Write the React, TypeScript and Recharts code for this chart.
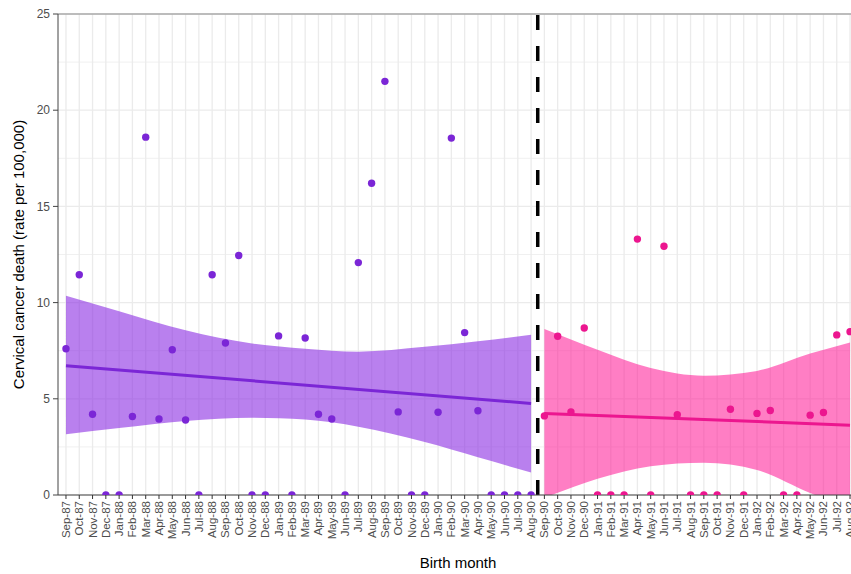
import React from "react";
import {
  ComposedChart,
  Area,
  Line,
  Scatter,
  XAxis,
  YAxis,
  CartesianGrid,
  ReferenceLine,
} from "recharts";

// birth months, Sep-87 .. Aug-92
const months = [
  "Sep-87", "Oct-87", "Nov-87", "Dec-87", "Jan-88", "Feb-88", "Mar-88", "Apr-88",
  "May-88", "Jun-88", "Jul-88", "Aug-88", "Sep-88", "Oct-88", "Nov-88", "Dec-88",
  "Jan-89", "Feb-89", "Mar-89", "Apr-89", "May-89", "Jun-89", "Jul-89", "Aug-89",
  "Sep-89", "Oct-89", "Nov-89", "Dec-89", "Jan-90", "Feb-90", "Mar-90", "Apr-90",
  "May-90", "Jun-90", "Jul-90", "Aug-90", "Sep-90", "Oct-90", "Nov-90", "Dec-90",
  "Jan-91", "Feb-91", "Mar-91", "Apr-91", "May-91", "Jun-91", "Jul-91", "Aug-91",
  "Sep-91", "Oct-91", "Nov-91", "Dec-91", "Jan-92", "Feb-92", "Mar-92", "Apr-92",
  "May-92", "Jun-92", "Jul-92", "Aug-92",
];

// death rate per 100,000, before the cut (Sep-87 .. Aug-90)
const beforeRate = [
  7.6, 11.45, 4.2, 0, 0, 4.08, 18.6, 3.95, 7.55, 3.9, 0, 11.45,
  7.9, 12.45, 0, 0, 8.27, 0, 8.16, 4.2, 3.95, 0, 12.08, 16.2,
  21.5, 4.32, 0, 0, 4.3, 18.55, 8.44, 4.38, 0, 0, 0, 0,
];

// after the cut (Sep-90 .. Aug-92)
const afterRate = [
  4.11, 8.25, 4.32, 8.68, 0, 0, 0, 13.3, 0, 12.93, 4.17, 0,
  0, 0, 4.46, 0, 4.24, 4.39, 0, 0, 4.15, 4.29, 8.32, 8.49,
];

// fitted trend, value at first and last month of each period
const beforeFit = [6.72, 4.76];
const afterFit = [4.24, 3.63];

// confidence band read at a few months
const beforeBandAt = [0, 4, 9, 14, 18, 22, 27, 31, 35];
const beforeLow = [3.16, 3.48, 3.85, 4.02, 3.92, 3.55, 2.75, 1.96, 1.17];
const beforeHigh = [10.36, 9.55, 8.56, 7.87, 7.6, 7.45, 7.7, 7.99, 8.33];

const afterBandAt = [36, 40, 44, 48, 52, 56, 59];
const afterLow = [-0.15, 0.85, 1.5, 1.68, 1.3, 0.1, -0.67];
const afterHigh = [8.63, 7.55, 6.6, 6.2, 6.45, 7.35, 7.93];

const cut = beforeRate.length;

const rows: any[] = months.map((m, i) => ({ i, month: m }));
beforeBandAt.forEach((idx, k) => (rows[idx].beforeBand = [beforeLow[k], beforeHigh[k]]));
afterBandAt.forEach((idx, k) => (rows[idx].afterBand = [afterLow[k], afterHigh[k]]));
rows[0].beforeFit = beforeFit[0];
rows[cut - 1].beforeFit = beforeFit[1];
rows[cut].afterFit = afterFit[0];
rows[months.length - 1].afterFit = afterFit[1];

const beforePts = beforeRate.map((v, k) => ({ i: k, v }));
const afterPts = afterRate.map((v, k) => ({ i: cut + k, v }));

const PURPLE = "#7b26d6";
const PINK = "#ec168f";
const FONT = "'Liberation Sans', Arial, sans-serif";

const XTick = ({ x, y, payload }: any) => (
  <text
    x={x}
    y={y}
    transform={`rotate(-90 ${x} ${y})`}
    textAnchor="end"
    dy="0.35em"
    fontSize={11.5}
    fill="#4d4d4d"
    fontFamily={FONT}
  >
    {months[payload.value]}
  </text>
);

const XTitle = ({ viewBox }: any) => (
  <text
    x={viewBox.x + viewBox.width / 2}
    y={viewBox.y + viewBox.height - 6}
    textAnchor="middle"
    fontSize={15}
    fill="#000"
    fontFamily={FONT}
  >
    Birth month
  </text>
);

const YTitle = ({ viewBox }: any) => {
  const cy = viewBox.y + viewBox.height / 2;
  return (
    <text
      x={24}
      y={cy}
      transform={`rotate(-90 24 ${cy})`}
      textAnchor="middle"
      fontSize={15}
      fill="#000"
      fontFamily={FONT}
    >
      Cervical cancer death (rate per 100,000)
    </text>
  );
};

const dot = (color: string) => (p: any) => (
  <circle cx={p.cx} cy={p.cy} r={3.7} fill={color} />
);

export default function App() {
  return (
    <div
      style={{
        position: "fixed",
        left: 0,
        top: 0,
        width: 851,
        height: 574,
        overflow: "hidden",
        background: "#fff",
      }}
    >
      <ComposedChart
        width={860}
        height={574}
        data={rows}
        margin={{ top: 14, right: 2, bottom: 0, left: 0 }}
      >
        <CartesianGrid
          stroke="#ececec"
          strokeWidth={0.8}
          vertical={false}
          horizontalValues={[2.5, 7.5, 12.5, 17.5, 22.5]}
        />
        <CartesianGrid
          stroke="#ebebeb"
          strokeWidth={1.3}
          horizontalValues={[0, 5, 10, 15, 20, 25]}
          verticalValues={months.map((_, i) => i)}
        />
        <XAxis
          dataKey="i"
          type="number"
          domain={[-0.6, 59.6]}
          ticks={months.map((_, i) => i)}
          interval={0}
          height={79}
          tickSize={4}
          tickMargin={2}
          tick={<XTick />}
          stroke="#444"
          tickLine={{ stroke: "#333" }}
          label={{ content: <XTitle /> }}
        />
        <YAxis
          type="number"
          domain={[0, 25]}
          ticks={[0, 5, 10, 15, 20, 25]}
          allowDataOverflow
          width={58}
          tickSize={5}
          tickMargin={3}
          stroke="#444"
          tick={{ fontSize: 12, fill: "#4d4d4d", fontFamily: FONT }}
          label={{ content: <YTitle /> }}
        />
        <ReferenceLine y={25} stroke="#888" strokeWidth={1} />
        <Area
          dataKey="beforeBand"
          type="monotone"
          connectNulls
          stroke="none"
          fill="#8a2be2"
          fillOpacity={0.6}
          isAnimationActive={false}
        />
        <Area
          dataKey="afterBand"
          type="monotone"
          connectNulls
          stroke="none"
          fill="#ff1493"
          fillOpacity={0.55}
          isAnimationActive={false}
        />
        <Line
          dataKey="beforeFit"
          type="linear"
          connectNulls
          stroke={PURPLE}
          strokeWidth={3}
          dot={false}
          isAnimationActive={false}
        />
        <Line
          dataKey="afterFit"
          type="linear"
          connectNulls
          stroke={PINK}
          strokeWidth={3}
          dot={false}
          isAnimationActive={false}
        />
        <Scatter data={beforePts} dataKey="v" shape={dot(PURPLE)} isAnimationActive={false} />
        <Scatter data={afterPts} dataKey="v" shape={dot(PINK)} isAnimationActive={false} />
        <ReferenceLine
          x={cut - 0.5}
          stroke="#000"
          strokeWidth={3.5}
          strokeDasharray="15 16"
        />
      </ComposedChart>
    </div>
  );
}
